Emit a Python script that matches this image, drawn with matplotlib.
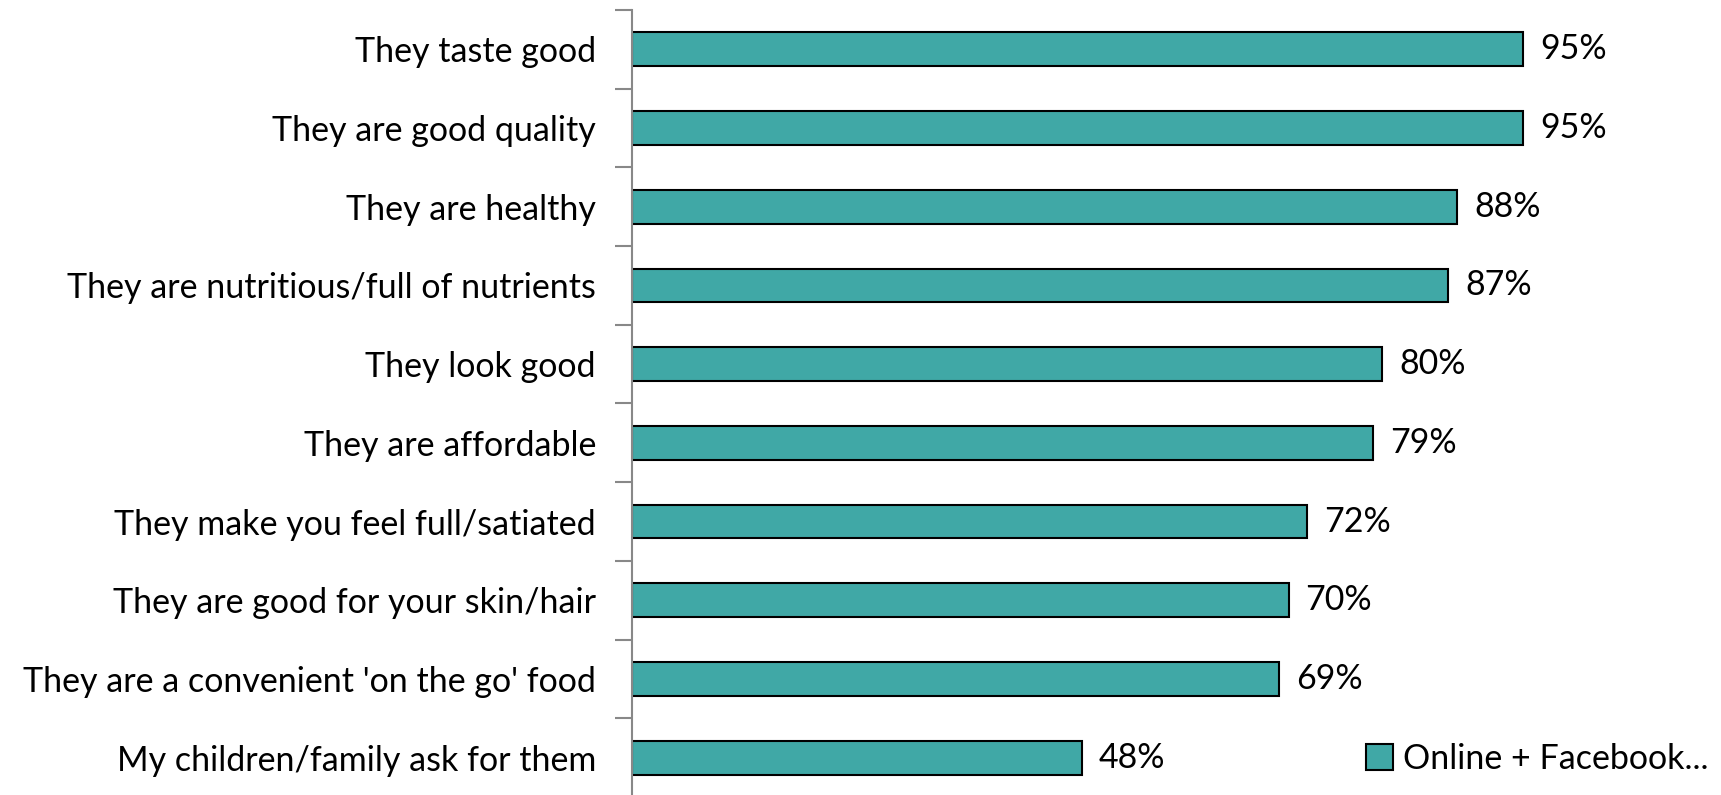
import matplotlib.pyplot as plt
import numpy as np

categories = [
    "They taste good",
    "They are good quality",
    "They are healthy",
    "They are nutritious/full of nutrients",
    "They look good",
    "They are affordable",
    "They make you feel full/satiated",
    "They are good for your skin/hair",
    "They are a convenient 'on the go' food",
    "My children/family ask for them",
]
values = [95, 95, 88, 87, 80, 79, 72, 70, 69, 48]
series_name = "Online + Facebook..."

plt.rcParams['font.family'] = ['Lato', 'DejaVu Sans']
FS = 24.5

fig = plt.figure(figsize=(17.21, 7.95), dpi=100)
ax = fig.add_axes([632 / 1721, -2 / 795, 938 / 1721, 787 / 795])

y = np.arange(len(categories))
ax.barh(y, values, height=0.43, color="#40A8A6", edgecolor="black", linewidth=1.5,
        label=series_name)
for yi, v in zip(y, values):
    ax.text(v + 1.8, yi, f"{v}%", va="center", ha="left", fontsize=FS)

ax.set_xlim(0, 100)
ax.set_ylim(len(categories) - 0.5, -0.5)
ax.set_yticks(y)
ax.set_yticklabels(categories, fontsize=FS)
ax.tick_params(axis="y", which="major", length=0, pad=26)
ax.set_yticks(np.arange(len(categories) + 1) - 0.5, minor=True)
ax.tick_params(axis="y", which="minor", length=12, color="#888888", width=1.5)
ax.set_xticks([])
for s in ["top", "right", "bottom"]:
    ax.spines[s].set_visible(False)
ax.spines["left"].set_color("#888888")
ax.spines["left"].set_linewidth(1.5)

fig.legend(loc="center left", bbox_to_anchor=(1335 / 1721, 1 - 759 / 795), frameon=False,
           fontsize=FS, handlelength=0.8, handleheight=0.8, handletextpad=0.3)

fig.savefig("out.png", dpi=100)
